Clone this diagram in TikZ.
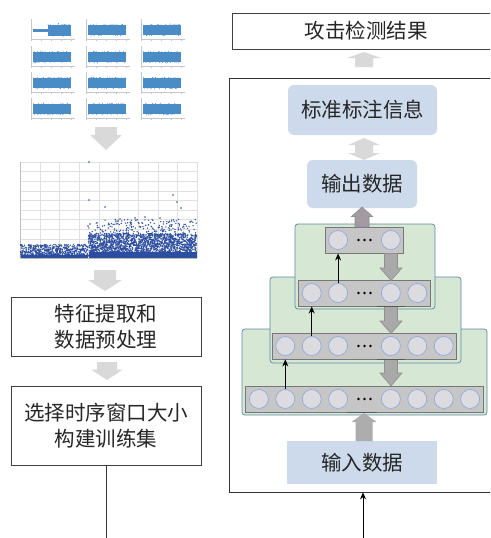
\documentclass[tikz,border=0pt]{standalone}
\usepackage{fontspec}
\newfontfamily\cjk{Noto Sans CJK SC}
\usetikzlibrary{arrows.meta}
\definecolor{boxblue}{HTML}{CCDAEB}
\definecolor{lgreen}{HTML}{D6E7D3}
\definecolor{gborder}{HTML}{5B88AA}
\definecolor{barfill}{HTML}{C6C6C6}
\definecolor{barline}{HTML}{777777}
\definecolor{cfill}{HTML}{DCDCE0}
\definecolor{cline}{HTML}{8EABDB}
\definecolor{arrgray}{HTML}{D9D9D9}
\definecolor{midgray}{HTML}{A9A9A9}
\definecolor{midline}{HTML}{909090}
\definecolor{outgray}{HTML}{A29BA1}
\definecolor{txtc}{HTML}{262626}
\definecolor{ptblue}{HTML}{2C4EA0}
\definecolor{smblue}{HTML}{4A8CC6}
\newcommand{\blockarrow}[7][]{\path[#1] ({#2-#6},#3) -- ({#2+#6},#3) -- ({#2+#6},#4) -- ({#2+#7},#4) -- (#2,#5) -- ({#2-#7},#4) -- ({#2-#6},#4) -- cycle;}
\tikzset{
  txt/.style={font=\cjk\fontsize{20.5}{26}\selectfont, text=txtc, align=center},
  plainbox/.style={txt, draw=black!75, line width=0.8pt, fill=white, inner sep=0pt},
  bluebox/.style={txt, fill=boxblue, inner sep=0pt},
  layerbox/.style={rounded corners=3pt, fill=lgreen, draw=gborder, line width=0.7pt, inner sep=0pt},
  barbox/.style={draw=barline, fill=barfill, line width=0.9pt, minimum height=26pt, inner sep=0pt},
  neuron/.style={circle, draw=cline, fill=cfill, line width=0.7pt, minimum size=19pt, inner sep=0pt},
  blk/.style={-{Stealth[length=7pt,width=6pt]}, line width=0.8pt, black},
  lightarr/.style={fill=arrgray},
  midarr/.style={fill=midgray, draw=midline, line width=0.6pt},
}
\begin{document}
\begin{tikzpicture}[x=1pt,y=-1pt]
\useasboundingbox (0,0) rectangle (490,538);
\clip (0,0) rectangle (490,538);

% ---------- small scatter grid ----------
\pgfmathsetseed{7}
\foreach \x in {33,88,143}{
  \foreach \yc in {30,57,83,109}{
    \draw[black!22, line width=0.3pt] (\x-2,\yc-11) -- (\x-2,\yc+9) -- (\x+42,\yc+9);
    \foreach \t in {0,10,20,30,40}{ \draw[black!22, line width=0.3pt] (\x-2+\t,\yc+9) -- (\x-2+\t,\yc+10.5); }
    \ifnum\x=33 \ifnum\yc=30
      \fill[smblue] (\x,\yc-1.5) rectangle (\x+15,\yc+1.5);
      \fill[smblue] (\x+15,\yc-5.5) rectangle (\x+38,\yc+5.5);
      \foreach \k in {1,...,25}{
        \pgfmathsetmacro\px{\x+15+23*rnd}
        \pgfmathsetmacro\py{\yc+(2*int(2*rnd)-1)*(5+1.2*rnd)}
        \fill[smblue] (\px,\py) circle (0.45);
      }
    \else
      \fill[smblue] (\x,\yc-5) rectangle (\x+38,\yc+5);
      \foreach \k in {1,...,35}{
        \pgfmathsetmacro\px{\x+38*rnd}
        \pgfmathsetmacro\py{\yc+(2*int(2*rnd)-1)*(4.6+1.4*rnd)}
        \fill[smblue] (\px,\py) circle (0.45);
      }
    \fi
    \else
      \fill[smblue] (\x,\yc-5) rectangle (\x+38,\yc+5);
      \foreach \k in {1,...,35}{
        \pgfmathsetmacro\px{\x+38*rnd}
        \pgfmathsetmacro\py{\yc+(2*int(2*rnd)-1)*(4.6+1.4*rnd)}
        \fill[smblue] (\px,\py) circle (0.45);
      }
    \fi
  }
}

% arrow 1
\blockarrow[lightarr]{106}{127}{135}{150}{11}{16}

% ---------- large scatter ----------
\foreach \i in {0,...,9}{ \draw[black!12, line width=0.3pt] (20+19.67*\i,162) -- (20+19.67*\i,258); }
\foreach \j in {0,...,10}{ \draw[black!12, line width=0.3pt] (20,162+9.6*\j) -- (197,162+9.6*\j); }
\draw[black!25, line width=0.4pt] (20,162) -- (20,258) -- (197,258);
\fill[ptblue] (20.5,254.5) rectangle (88,258);
\foreach \k in {1,...,800}{
  \pgfmathsetmacro\px{20.5+67.5*rnd}
  \pgfmathsetmacro\py{257.5-13*rnd^1.6}
  \fill[ptblue] (\px,\py) circle (0.75);
}
\fill[ptblue] (88.5,252) rectangle (196.5,258);
\foreach \k in {1,...,1700}{
  \pgfmathsetmacro\px{88.5+108*rnd}
  \pgfmathsetmacro\py{257.5-24*rnd}
  \fill[ptblue] (\px,\py) circle (0.75);
}
\foreach \k in {1,...,700}{
  \pgfmathsetmacro\px{88.5+108*rnd}
  \pgfmathsetmacro\py{257.5-38*rnd^1.4}
  \fill[ptblue] (\px,\py) circle (0.75);
}
\foreach \px/\py in {89/162,89/200,105/207,173/195,177/202,181/208,88/226,90/224,135/218,145/217,120/219,160/218}{
  \fill[ptblue] (\px,\py) circle (0.8);
}

% arrow 2
\blockarrow[lightarr]{105}{270}{280}{291}{11}{17}

% ---------- left boxes ----------
\node[plainbox, minimum width=190pt, minimum height=59pt] (feat) at (106,326.5) {特征提取和\\数据预处理};
\blockarrow[lightarr]{107}{362}{369.5}{380}{10}{16}
\node[plainbox, minimum width=190pt, minimum height=79pt] (win) at (106,425.5) {选择时序窗口大小\\构建训练集};
\coordinate (leftend) at (win.south |- 0,545);
\draw[black!80, line width=0.8pt] (win.south) -- (leftend);

% ---------- right side ----------
\node[plainbox, minimum width=268pt, minimum height=36pt] (result) at (366,31) {攻击检测结果};
\node[draw=black!80, line width=0.8pt, minimum width=274pt, minimum height=414pt, inner sep=0pt] (big) at (366,285) {};
\blockarrow[lightarr]{364}{67}{58}{52}{9}{17}

\node[bluebox, rounded corners=6pt, minimum width=149pt, minimum height=50pt] (label) at (362.5,110) {标准标注信息};
% double arrow
\fill[arrgray] (364,138) -- (380,145) -- (373,145) -- (373,153) -- (380,153) -- (364,160) -- (348,153) -- (355,153) -- (355,145) -- (348,145) -- cycle;
\node[bluebox, rounded corners=6pt, minimum width=110pt, minimum height=48pt] (out) at (362,184) {输出数据};

% layers
\node[layerbox, minimum width=245pt, minimum height=86pt] (L1) at (364.5,372) {};
\node[layerbox, minimum width=191pt, minimum height=86pt] (L2) at (365.5,320) {};
\node[layerbox, minimum width=140pt, minimum height=85pt] (L3) at (365,266.5) {};

% bars with neurons
\foreach \b/\n/\y in {1/1/240,2/2/293,3/3/346,4/4/399}{
  \pgfmathsetmacro\bw{2*(26.4*\n+13)}
  \node[barbox, minimum width=\bw pt] (b\b) at (364.5,\y) {};
  \foreach \p in {-\n,...,\n}{
    \ifnum\p=0
      \foreach \d in {-6,0,6}{ \fill[black] (364.5+\d,\y) circle (1.4); }
    \else
      \node[neuron] (c\b\p) at (364.5+26.4*\p,\y) {};
    \fi
  }
}

% black arrows up
\draw[blk] (c2-1.north) -- (c2-1.north |- b1.south);
\draw[blk] (c3-2.north) -- (c3-2.north |- b2.south);
\draw[blk] (c4-3.north) -- (c4-3.north |- b3.south);

% gray down arrows
\blockarrow[midarr]{391}{253.5}{268}{280.5}{6.5}{11}
\blockarrow[midarr]{391}{306.5}{321}{333.5}{6.5}{11}
\blockarrow[midarr]{391}{359.5}{373}{386}{6.5}{11}
\draw[black!65, line width=1.2pt] (377,306.5) -- (405,306.5);
\draw[black!65, line width=1.2pt] (377,359.5) -- (405,359.5);
\draw[black!65, line width=1.2pt] (347,412.5) -- (377,412.5);

% up arrow to output
\blockarrow[fill=outgray, draw=black!45, line width=0.6pt]{362}{227}{216.5}{207}{7}{10.5}

% input
\node[bluebox, minimum width=150pt, minimum height=43pt] (in) at (362,462.5) {输入数据};
\blockarrow[fill=black!32]{364}{441}{422}{413}{8.5}{12.5}

\coordinate (rightend) at (363,545);
\draw[blk] (rightend) -- (rightend |- big.south);
\end{tikzpicture}
\end{document}
